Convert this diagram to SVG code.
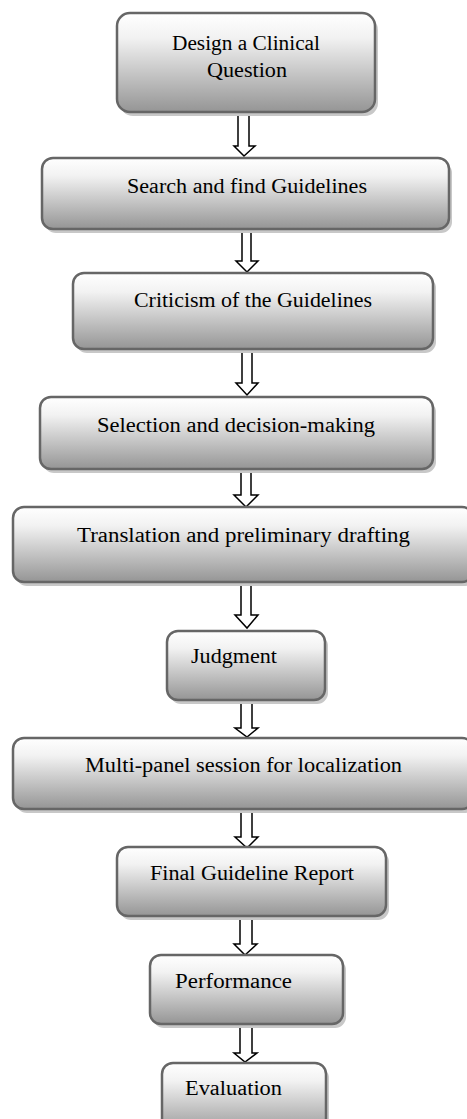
<svg xmlns="http://www.w3.org/2000/svg" width="467" height="1119" viewBox="0 0 467 1119">
<defs>
<linearGradient id="g" x1="0" y1="0" x2="0" y2="1">
<stop offset="0" stop-color="#ffffff"/>
<stop offset="0.25" stop-color="#f2f2f2"/>
<stop offset="1" stop-color="#959595"/>
</linearGradient>
<style>
.box{fill:url(#g);stroke:#666666;stroke-width:2.5}
.sh{fill:#c8c8c8}
.t{font-family:"Liberation Serif","DejaVu Serif",serif;font-size:20.5px;fill:#000;text-anchor:middle}
.tl{font-family:"Liberation Serif","DejaVu Serif",serif;font-size:20.5px;fill:#000}
.arr{fill:#ffffff;stroke:#000;stroke-width:1.5;stroke-linejoin:miter}
</style>
</defs>
<rect width="467" height="1119" fill="#ffffff"/>
<g id="connectors">
<path class="arr" d="M238,112 V146 H234 L244,156 L255,146 H249 V112 Z"/>
<path class="arr" d="M242,229 V261 H236 L247,272 L258,261 H251 V229 Z"/>
<path class="arr" d="M242,349 V383 H236 L247,395 L258,383 H252 V349 Z"/>
<path class="arr" d="M241,469 V495 H234 L246,507 L258,495 H251 V469 Z"/>
<path class="arr" d="M241,582 V615 H235 L247,628 L258,615 H251 V582 Z"/>
<path class="arr" d="M241,700 V728 H235 L247,737 L258,728 H252 V700 Z"/>
<path class="arr" d="M241,809 V837 H235 L247,848 L258,837 H252 V809 Z"/>
<path class="arr" d="M240,916 V944 H234 L245,955 L257,944 H252 V916 Z"/>
<path class="arr" d="M240,1024 V1053 H234 L245,1062 L257,1053 H252 V1024 Z"/>
</g>
<g id="n1">
<rect class="sh" x="120" y="17" width="258" height="99" rx="13"/>
<rect class="box" x="117" y="13" width="258" height="99" rx="13"/>
<text class="t" x="246" y="50" textLength="148" lengthAdjust="spacingAndGlyphs">Design a Clinical</text>
<text class="t" x="247" y="77" textLength="80" lengthAdjust="spacingAndGlyphs">Question</text>
</g>
<g id="n2">
<rect class="sh" x="45" y="162" width="407" height="71" rx="11"/>
<rect class="box" x="42" y="158" width="407" height="71" rx="11"/>
<text class="t" x="247" y="193" textLength="240" lengthAdjust="spacingAndGlyphs">Search and find Guidelines</text>
</g>
<g id="n3">
<rect class="sh" x="76" y="277" width="360" height="76" rx="11"/>
<rect class="box" x="73" y="273" width="360" height="76" rx="11"/>
<text class="t" x="253" y="307" textLength="238" lengthAdjust="spacingAndGlyphs">Criticism of the Guidelines</text>
</g>
<g id="n4">
<rect class="sh" x="43" y="401" width="393" height="72" rx="11"/>
<rect class="box" x="40" y="397" width="393" height="72" rx="11"/>
<text class="t" x="236" y="432" textLength="278" lengthAdjust="spacingAndGlyphs">Selection and decision-making</text>
</g>
<g id="n5">
<rect class="sh" x="16" y="511" width="460" height="75" rx="11"/>
<rect class="box" x="13" y="507" width="460" height="75" rx="11"/>
<text class="t" x="243.5" y="542" textLength="333" lengthAdjust="spacingAndGlyphs">Translation and preliminary drafting</text>
</g>
<g id="n6">
<rect class="sh" x="170" y="635" width="158" height="69" rx="11"/>
<rect class="box" x="167" y="631" width="158" height="69" rx="11"/>
<text class="tl" x="191" y="663" textLength="86" lengthAdjust="spacingAndGlyphs">Judgment</text>
</g>
<g id="n7">
<rect class="sh" x="16" y="742" width="460" height="71" rx="11"/>
<rect class="box" x="13" y="738" width="460" height="71" rx="11"/>
<text class="t" x="243.5" y="772" textLength="317" lengthAdjust="spacingAndGlyphs">Multi-panel session for localization</text>
</g>
<g id="n8">
<rect class="sh" x="120" y="851" width="269" height="69" rx="11"/>
<rect class="box" x="117" y="847" width="269" height="69" rx="11"/>
<text class="t" x="252" y="880" textLength="204" lengthAdjust="spacingAndGlyphs">Final Guideline Report</text>
</g>
<g id="n9">
<rect class="sh" x="153" y="959" width="193" height="69" rx="11"/>
<rect class="box" x="150" y="955" width="193" height="69" rx="11"/>
<text class="tl" x="175" y="988" textLength="117" lengthAdjust="spacingAndGlyphs">Performance</text>
</g>
<g id="n10">
<rect class="sh" x="165" y="1067" width="164" height="72" rx="11"/>
<rect class="box" x="162" y="1063" width="164" height="72" rx="11"/>
<text class="tl" x="185" y="1095" textLength="97" lengthAdjust="spacingAndGlyphs">Evaluation</text>
</g>
</svg>
